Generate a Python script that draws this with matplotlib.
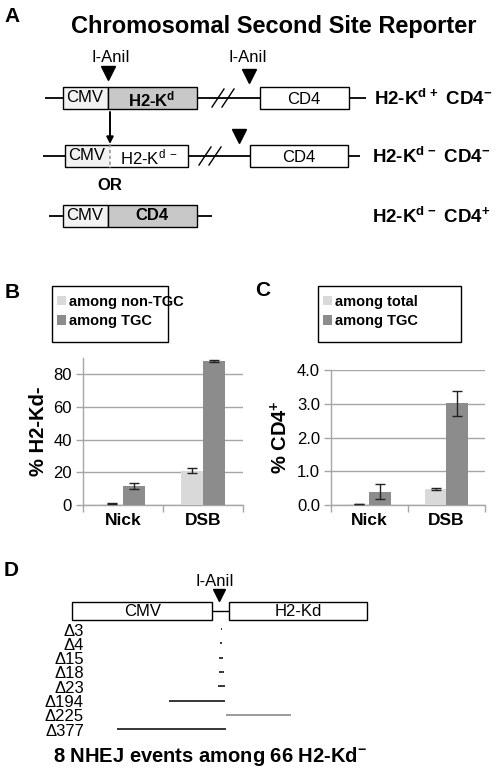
import matplotlib
matplotlib.use('Agg')
import matplotlib.pyplot as plt
from matplotlib.patches import Rectangle
from matplotlib.ticker import FormatStrFormatter, FixedLocator
import numpy as np

plt.rcParams['font.family'] = ['Liberation Sans', 'DejaVu Sans']
plt.rcParams['mathtext.fontset'] = 'custom'
plt.rcParams['mathtext.rm'] = 'Liberation Sans'
plt.rcParams['mathtext.bf'] = 'Liberation Sans:bold'
plt.rcParams['mathtext.it'] = 'Liberation Sans:italic'
plt.rcParams['mathtext.sf'] = 'Liberation Sans'

# ---------------- data ----------------
categories = ['Nick', 'DSB']

b_series = ['among non-TGC', 'among TGC']
b_nontgc = [0.8, 21.0]
b_nontgc_err = [0.3, 1.4]
b_tgc = [11.6, 88.0]
b_tgc_err = [1.6, 0.5]
b_yticks = [0, 20, 40, 60, 80]

c_series = ['among total', 'among TGC']
c_total = [0.02, 0.47]
c_total_err = [0.005, 0.03]
c_tgc = [0.40, 3.02]
c_tgc_err = [0.23, 0.37]
c_yticks = [0.0, 1.0, 2.0, 3.0, 4.0]

del_sizes = [3, 4, 15, 18, 23, 194, 225, 377]
del_left_bp = [1, 2, 7, 8, 10, 180, -17, 360]   # bp removed left of the I-AniI site

# ---------------- style ----------------
LIGHT = '#d9d9d9'
DARK = '#8c8c8c'
GRID = '#a6a6a6'
CMV_FILL = '#f2f2f2'
GENE_FILL = '#c8c8c8'
del_colors = ['black'] * 6 + ['#808080', 'black']

W, H = 502, 771
fig = plt.figure(figsize=(W / 100, H / 100), dpi=100)
ov = fig.add_axes([0, 0, 1, 1])
ov.set_xlim(0, W)
ov.set_ylim(H, 0)
ov.axis('off')


def box(x0, x1, y0, y1, fc, ec='black'):
    ov.add_patch(Rectangle((x0, y0), x1 - x0, y1 - y0, fc=fc, ec=ec, lw=1.0, zorder=3))


def hline(x0, x1, y, lw=1.3, color='black'):
    ov.plot([x0, x1], [y, y], color=color, lw=lw, solid_capstyle='butt', zorder=2)


def tri(x, y, ms=10):
    ov.plot([x], [y], marker='v', ms=ms, color='black', mec='black', zorder=4)


def breakmark(x, y):
    for dx in (0, 10):
        ov.plot([x + dx - 6, x + dx + 6], [y + 9, y - 9], color='black', lw=1.0, zorder=4)


def txt(x, y, s, size, weight='normal', ha='center', va='center', **kw):
    ov.text(x, y, s, fontsize=size, fontweight=weight, ha=ha, va=va, zorder=5, **kw)


# ---------------- panel A ----------------
txt(4, 17, 'A', 15, 'bold', ha='left')
txt(274, 26, 'Chromosomal Second Site Reporter', 17, 'bold')

# row 1
y0, y1 = 87, 109
yc = (y0 + y1) / 2
hline(45, 63, yc)
box(63, 108, y0, y1, CMV_FILL)
box(108, 197, y0, y1, GENE_FILL)
hline(197, 260, yc)
breakmark(218, yc)
box(260, 349, y0, y1, 'white')
hline(349, 366, yc)
txt(85, yc, 'CMV', 12)
txt(152, yc + 1, r'H2-K$^{\mathbf{d}}$', 12, 'bold')
txt(304, yc + 1, 'CD4', 12)
txt(374, yc + 1, r'H2-K$^{\mathbf{d\,+}}$ CD4$^{\mathbf{-}}$', 13.5, 'bold', ha='left')
txt(111, 57, 'I-AniI', 12)
txt(248, 57, 'I-AniI', 12)
tri(108, 73)
tri(249, 76)
ov.annotate('', xy=(110, 144), xytext=(110, 112),
            arrowprops=dict(arrowstyle='-|>', color='black', lw=1.4, mutation_scale=10,
                            shrinkA=0, shrinkB=0), zorder=4)

# row 2
y0, y1 = 145, 167
yc = (y0 + y1) / 2
hline(43, 65, yc)
ov.add_patch(Rectangle((65, y0), 45, y1 - y0, fc=CMV_FILL, ec='none', zorder=3))
ov.add_patch(Rectangle((110, y0), 78, y1 - y0, fc='white', ec='none', zorder=3))
ov.add_patch(Rectangle((65, y0), 123, y1 - y0, fc='none', ec='black', lw=1.0, zorder=3))
ov.plot([110, 110], [y0 - 1, y1 + 1], color='#999999', lw=1.2, ls=(0, (2, 1.5)), zorder=4)
hline(188, 250, yc)
breakmark(205, yc)
box(250, 348, y0, y1, 'white')
hline(348, 360, yc)
txt(87, yc, 'CMV', 12)
txt(149, yc + 1, r'H2-K$^{\mathrm{d}}$ $^{-}$', 12)
txt(299, yc + 1, 'CD4', 12)
tri(239, 136)
txt(372, yc + 1, r'H2-K$^{\mathbf{d\,-}}$ CD4$^{\mathbf{-}}$', 13.5, 'bold', ha='left')
txt(110, 186, 'OR', 12, 'bold')

# row 3
y0, y1 = 205, 227
yc = (y0 + y1) / 2
hline(49, 63, yc)
box(63, 108, y0, y1, CMV_FILL)
box(108, 197, y0, y1, GENE_FILL)
hline(197, 212, yc)
txt(85, yc, 'CMV', 12)
txt(152, yc, 'CD4', 12, 'bold')
txt(372, yc + 1, r'H2-K$^{\mathbf{d\,-}}$ CD4$^{\mathbf{+}}$', 13.5, 'bold', ha='left')


# ---------------- panels B, C ----------------
def bar_panel(left, right, top, bottom, s1, e1, s2, e2, ymax, yticks, fmt, ylabel,
              names, legend_box, letter, letter_xy):
    ax = fig.add_axes([left / W, 1 - bottom / H, (right - left) / W, (bottom - top) / H])
    x = np.arange(len(categories))
    w = 0.275
    b1 = ax.bar(x - w / 2, s1, w, color=LIGHT, zorder=3)
    b2 = ax.bar(x + w / 2, s2, w, color=DARK, zorder=3)
    ax.errorbar(x - w / 2, s1, yerr=e1, fmt='none', ecolor='#222222', elinewidth=1,
                capsize=3.5, capthick=1, zorder=4)
    ax.errorbar(x + w / 2, s2, yerr=e2, fmt='none', ecolor='#222222', elinewidth=1,
                capsize=3.5, capthick=1, zorder=4)
    ax.set_xlim(-0.5, len(categories) - 0.5)
    ax.set_ylim(0, ymax)
    ax.set_yticks(yticks)
    ax.yaxis.set_major_formatter(FormatStrFormatter(fmt))
    ax.yaxis.grid(True, color=GRID, lw=1.0)
    ax.set_axisbelow(True)
    for s in ('top', 'right'):
        ax.spines[s].set_visible(False)
    for s in ('left', 'bottom'):
        ax.spines[s].set_color(GRID)
        ax.spines[s].set_linewidth(1.0)
    ax.set_xticks(x)
    ax.set_xticklabels(categories, fontsize=12.5, fontweight='bold')
    ax.xaxis.set_minor_locator(FixedLocator(np.arange(len(categories) + 1) - 0.5))
    ax.tick_params(axis='x', which='major', length=0, pad=6)
    ax.tick_params(axis='x', which='minor', length=5, color=GRID, width=1)
    ax.tick_params(axis='y', length=5, color=GRID, width=1, labelsize=12, pad=3)
    ax.set_ylabel(ylabel, fontsize=14.5, fontweight='bold', labelpad=4)
    # legend frame
    lx0, ly0, lx1, ly1 = legend_box
    ov.add_patch(Rectangle((lx0, ly0), lx1 - lx0, ly1 - ly0, fc='white', ec='black', lw=1.0, zorder=3))
    ax.legend([b1, b2], names, loc='upper left',
              bbox_to_anchor=((lx0 + 5) / W, 1 - (ly0 + 9) / H), bbox_transform=fig.transFigure,
              frameon=False, prop={'weight': 'bold', 'size': 10.5}, handlelength=0.6,
              handleheight=0.6, handletextpad=0.2, labelspacing=0.35, borderpad=0,
              borderaxespad=0)
    txt(letter_xy[0], letter_xy[1], letter, 15, 'bold', ha='left')
    return ax


bar_panel(83, 243, 358, 505, b_nontgc, b_nontgc_err, b_tgc, b_tgc_err, 90, b_yticks, '%d',
          '% H2-Kd-', b_series, (52, 286, 168, 342), 'B', (5, 293))
bar_panel(331, 485, 370, 505, c_total, c_total_err, c_tgc, c_tgc_err, 4.0, c_yticks, '%.1f',
          r'% CD4$^{\mathbf{+}}$', c_series, (318, 286, 461, 342), 'C', (255, 291))

# ---------------- panel D ----------------
txt(4, 570, 'D', 15, 'bold', ha='left')
SITE_PX = 221
PX_PER_BP = 0.29
axd = fig.add_axes([0, 0, 1, 1])
axd.set_xlim(-SITE_PX / PX_PER_BP, (W - SITE_PX) / PX_PER_BP)
axd.set_ylim(H, 0)
axd.axis('off')
axd.patch.set_alpha(0)

box(72, 212, 602, 620, 'white')
box(229, 367, 602, 620, 'white')
hline(212, 229, 611, lw=1.0)
txt(143, 611, 'CMV', 12)
txt(298, 611, 'H2-Kd', 12)
txt(215, 581, 'I-AniI', 12)
tri(219, 595, ms=9)

row_y0, row_dy = 631, 14.3
for i, (size, left, col) in enumerate(zip(del_sizes, del_left_bp, del_colors)):
    y = row_y0 + i * row_dy
    txt(84, y, '\u0394' + str(size), 12, ha='right', va='center')
    axd.plot([-left, size - left], [y - 2, y - 2], color=col, lw=1.1, solid_capstyle='butt')

txt(210, 757, r'8 NHEJ events among 66 H2-Kd$^{\mathbf{-}}$', 14.5, 'bold')

fig.savefig('out.png', dpi=100)
